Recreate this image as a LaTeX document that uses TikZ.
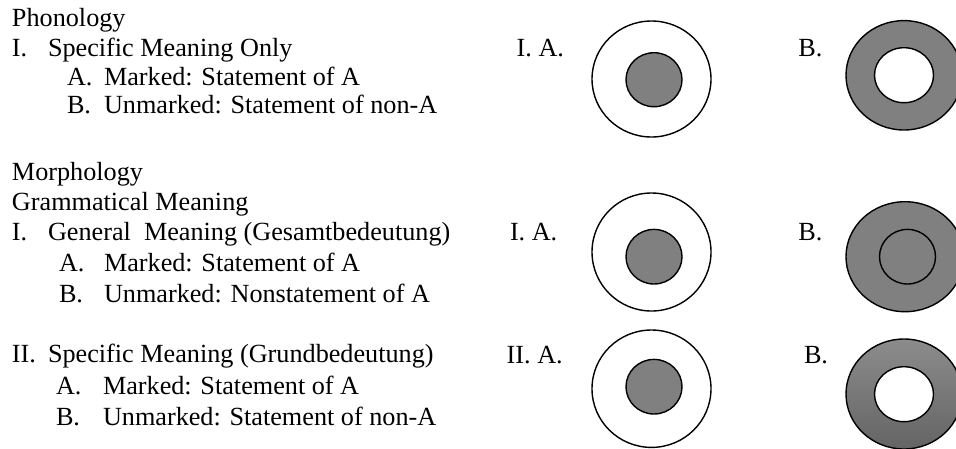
\documentclass[tikz,border=0pt]{standalone}
\usepackage{fontspec}
\setmainfont{Liberation Serif}
\begin{document}
\begin{tikzpicture}[x=1pt,y=-1pt,
  txt/.style={anchor=base west,inner sep=0pt,outer sep=0pt,font=\fontsize{26.2}{30}\selectfont},
  ring/.style={draw=black,line width=1.4pt},
  dark/.style={ring,fill=grayfill},
  light/.style={ring,fill=white}]
\definecolor{grayfill}{RGB}{128,128,128}
\useasboundingbox (0,0) rectangle (956,448);
% Phonology
\node[txt] (phon) at (12,26.7) {Phonology};
\node[txt] (p1n) at (12,56) {I.};
\node[txt] (p1t) at (48,56) {Specific Meaning Only};
\node[txt] (pAn) at (67,85) {A.};
\node[txt] (pAt) at (104,85) {Marked: Statement of A};
\node[txt] (pBn) at (67,113.3) {B.};
\node[txt] (pBt) at (104,113.3) {Unmarked: Statement of non-A};
% Morphology
\node[txt] (morph) at (12,180) {Morphology};
\node[txt] (gram) at (12,210.7) {Grammatical Meaning};
\node[txt] (m1n) at (12,240.7) {I.};
\node[txt] (m1t) at (48,240.7) {General\ \ Meaning (Gesamtbedeutung)};
\node[txt] (mAn) at (59,271.7) {A.};
\node[txt] (mAt) at (104,271.7) {Marked: Statement of A};
\node[txt] (mBn) at (59,302.3) {B.};
\node[txt] (mBt) at (104,302.3) {Unmarked: Nonstatement of A};
\node[txt] (m2n) at (12,362.7) {II.};
\node[txt] (m2t) at (48,362.7) {Specific Meaning (Grundbedeutung)};
\node[txt] (nAn) at (56,394) {A.};
\node[txt] (nAt) at (103,394) {Marked: Statement of A};
\node[txt] (nBn) at (56,425) {B.};
\node[txt] (nBt) at (103,425) {Unmarked: Statement of non-A};
% labels next to figures
\node[txt] (l1a) at (516.7,56.7) {I. A.};
\node[txt] (l1b) at (798.3,56.7) {B.};
\node[txt] (l2a) at (510,240.7) {I. A.};
\node[txt] (l2b) at (798.3,240.7) {B.};
\node[txt] (l3a) at (506.7,363.3) {II. A.};
\node[txt] (l3b) at (804,363.3) {B.};
% row 1
\draw[light] (651.5,79) ellipse [x radius=59.5pt, y radius=58pt];
\draw[dark] (654,79.7) ellipse [x radius=28pt, y radius=27pt];
\draw[dark] (904,75.3) ellipse [x radius=58pt, y radius=54.7pt];
\draw[light] (904,75.2) ellipse [x radius=29.5pt, y radius=27.5pt];
% row 2
\draw[light] (651.5,252) ellipse [x radius=59.5pt, y radius=59pt];
\draw[dark] (654,256.7) ellipse [x radius=28pt, y radius=27.3pt];
\draw[dark] (905,256.7) ellipse [x radius=59pt, y radius=55pt];
\draw[ring] (907.5,256.7) ellipse [x radius=28pt, y radius=27.3pt];
% row 3
\draw[light] (651.5,388.7) ellipse [x radius=59.5pt, y radius=58.7pt];
\draw[dark] (654,386.7) ellipse [x radius=28pt, y radius=27.3pt];
\draw[ring,top color={rgb,255:red,140;green,140;blue,140},bottom color={rgb,255:red,100;green,100;blue,100}] (904,394) ellipse [x radius=58pt, y radius=55pt];
\draw[light] (904,394.2) ellipse [x radius=29.5pt, y radius=27.5pt];
\end{tikzpicture}
\end{document}
